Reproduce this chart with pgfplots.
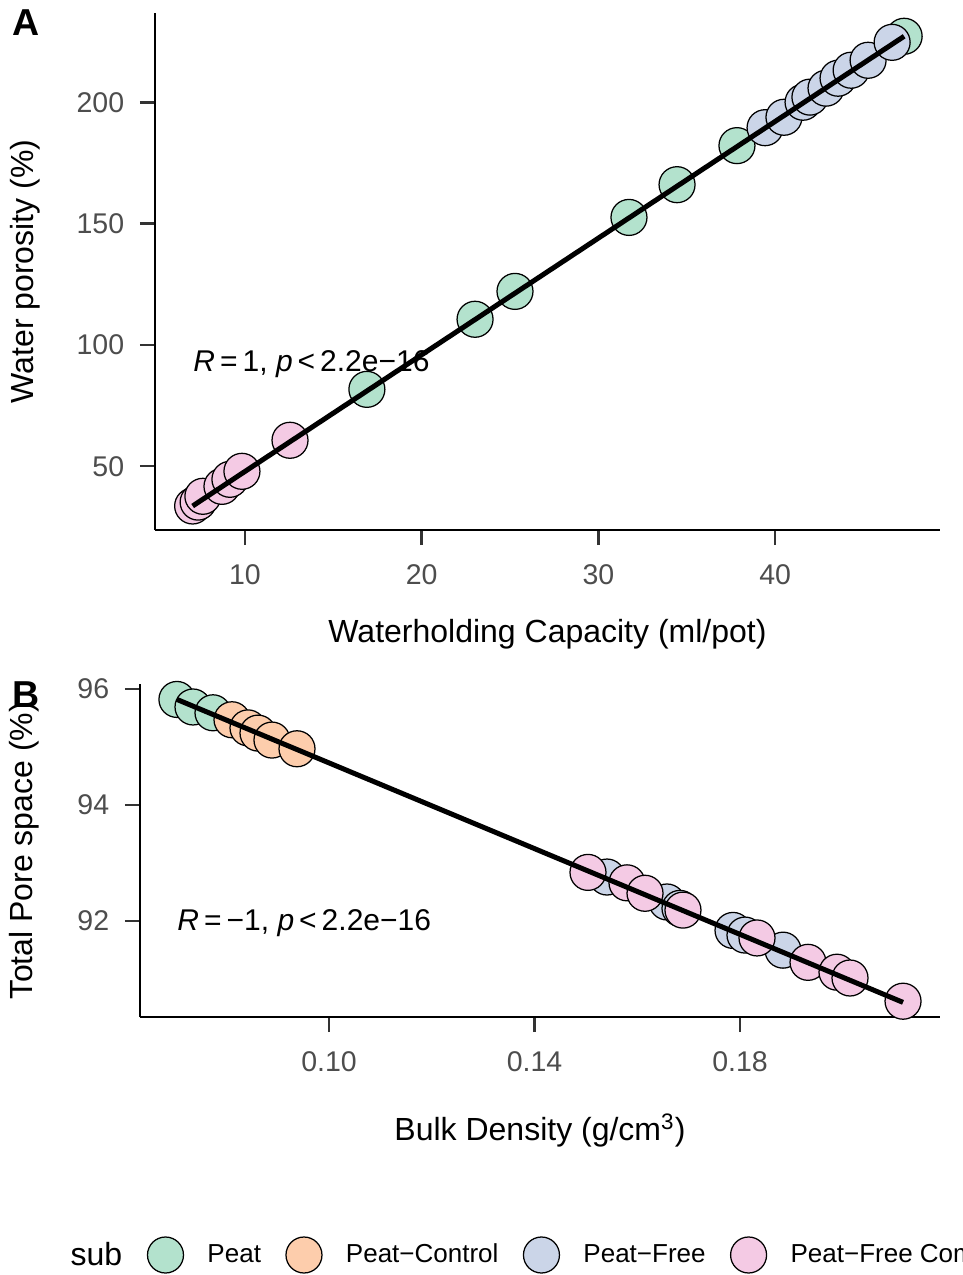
\documentclass[border=0pt]{standalone}
\usepackage{pgfplots}
\pgfplotsset{compat=1.18}
\usepackage{fontspec}
\setmainfont{Liberation Sans}

\definecolor{peat}{HTML}{B3E2CD}
\definecolor{peatctrl}{HTML}{FDCDAC}
\definecolor{peatfree}{HTML}{CBD5E8}
\definecolor{peatfreeco}{HTML}{F4CAE4}
\definecolor{gray30}{HTML}{4D4D4D}
\definecolor{gray20}{HTML}{333333}

% 1 px of the reference = 0.4pt
\pgfplotsset{
  ggclassic/.style={
    scale only axis,
    axis x line*=bottom, axis y line*=left,
    axis line style={line width=1pt, black, -},
    tick align=outside,
    major tick length=6pt,
    tick style={line width=1pt, gray20},
    ticklabel style={font=\fontsize{11.4}{13}\selectfont, text=gray30},
    xticklabel shift=4.4pt,
    yticklabel shift=2.8pt,
    /pgf/number format/assume math mode=true,
    label style={font=\fontsize{12.8}{15}\selectfont},
    clip=false,
    clip marker paths=true,
  },
  pt/.style={only marks, mark=*, mark size=7.2pt,
    mark options={draw=black, line width=0.5pt, fill=#1}},
  fit/.style={no marks, black, line width=2pt, forget plot},
}

\begin{document}
\begin{tikzpicture}
\path[use as bounding box, clip] (0pt,0pt) rectangle (384.8pt,-510pt);

% ---------- panel A
\begin{axis}[ggclassic,
    at={(62pt,-5.2pt)}, anchor=north west,
    width=314pt, height=206.8pt,
    xmin=4.91, xmax=49.33, ymin=23.7, ymax=236.9,
    xtick={10,20,30,40}, ytick={50,100,150,200},
    xlabel={Waterholding Capacity (ml/pot)},
    ylabel={Water porosity (\%)},
    xlabel style={at={(axis description cs:0.5,-0.2178)}, anchor=base},
    ylabel style={at={(axis description cs:-0.1554,0.5)}, anchor=base},
]
\addplot[pt=peat] coordinates {
  (16.90,81.7) (23.02,110.6) (25.28,122.1) (31.73,152.6)
  (34.45,166.1) (37.84,182.2) (47.30,227.3)
};
\addplot[pt=peatfree] coordinates {
  (39.43,189.6) (40.50,193.9) (41.58,200.1) (41.97,202.2) (42.88,205.9)
  (43.56,210.0) (44.30,213.3) (45.26,217.4) (46.62,224.8)
};
\addplot[pt=peatfreeco] coordinates {
  (7.04,33.6) (7.35,35.2) (7.62,37.6) (8.70,41.7)
  (9.15,44.6) (9.83,47.9) (12.55,60.7)
};
\addplot[fit] coordinates {(7.04,33.6) (47.30,227.3)};
\node[anchor=base west, inner sep=0pt, font=\fontsize{12}{14}\selectfont]
  at (axis cs:7.06,89.1) {\textit{R}\,=\,1, \textit{p}\,<\,2.2e−16};
\end{axis}

% ---------- panel B
\begin{axis}[ggclassic,
    at={(56pt,-273.6pt)}, anchor=north west,
    width=320pt, height=133.2pt,
    xmin=0.06321, xmax=0.21893, ymin=90.348, ymax=96.086,
    xtick={0.10,0.14,0.18}, ytick={92,94,96},
    xticklabel style={/pgf/number format/.cd, fixed, fixed zerofill, precision=2},
    xlabel={Bulk Density (g/cm\textsuperscript{3})},
    ylabel={Total Pore space (\%)},
    xlabel style={at={(axis description cs:0.5,-0.3694)}, anchor=base},
    ylabel style={at={(axis description cs:-0.1338,0.5)}, anchor=base},
    legend columns=-1,
    legend image code/.code={\draw[#1] plot coordinates {(0pt,0pt)};},
    legend style={at={(axis description cs:0.00875,-0.7147)}, anchor=west,
      draw=none, fill=none, inner sep=0pt,
      font=\fontsize{10.4}{12}\selectfont,
      nodes={inner sep=0pt},
      /tikz/every odd column/.append style={column sep=9.6pt},
      /tikz/every even column/.append style={column sep=10pt}},
]
\addplot[pt=peat] coordinates {
  (0.07040,95.82) (0.07353,95.69) (0.07742,95.59)
};
\addlegendentry{Peat}
\addplot[pt=peatctrl] coordinates {
  (0.08112,95.47) (0.08423,95.33) (0.08618,95.24) (0.08890,95.12) (0.09377,94.97)
};
\addlegendentry{Peat−Control}
\addplot[pt=peatfree] coordinates {
  (0.15411,92.76) (0.16579,92.33) (0.16832,92.22)
  (0.17864,91.84) (0.18097,91.76) (0.18837,91.50)
};
\addlegendentry{Peat−Free}
\addplot[pt=peatfreeco] coordinates {
  (0.15041,92.84) (0.15800,92.66) (0.16151,92.48) (0.16890,92.19)
  (0.18331,91.71) (0.19324,91.29) (0.19888,91.12) (0.20141,91.02) (0.21173,90.62)
};
\addlegendentry{Peat−Free Compost}
\addplot[fit] coordinates {(0.07040,95.82) (0.21173,90.60)};
\node[anchor=base west, inner sep=0pt, font=\fontsize{12}{14}\selectfont]
  at (axis cs:0.07041,91.845) {\textit{R}\,=\,−1, \textit{p}\,<\,2.2e−16};
\end{axis}

% panel tags and legend title
\node[anchor=base west, inner sep=0pt, font=\fontsize{15}{17}\selectfont\bfseries] at (4.8pt,-14.4pt) {A};
\node[anchor=base west, inner sep=0pt, font=\fontsize{15}{17}\selectfont\bfseries] at (4.8pt,-282.8pt) {B};
\node[anchor=base west, inner sep=0pt, font=\fontsize{12.8}{15}\selectfont] at (28pt,-506pt) {sub};
\end{tikzpicture}
\end{document}
